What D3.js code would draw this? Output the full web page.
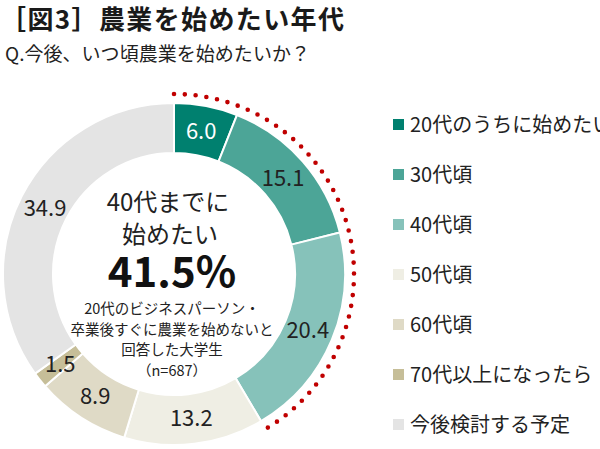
<!DOCTYPE html>
<html><head><meta charset="utf-8">
<script src="https://cdn.jsdelivr.net/npm/d3@7"></script>
<style>
html,body{margin:0;padding:0;background:#fff;}
text{font-family:"Noto Sans CJK JP","Noto Sans",sans-serif;}
</style></head>
<body><svg id="c" width="600" height="449"></svg>
<script>
const categories = ["20代のうちに始めたい","30代頃","40代頃","50代頃","60代頃","70代以上になったら","今後検討する予定"];
const values = [6.0, 15.1, 20.4, 13.2, 8.9, 1.5, 34.9];
const colors = ["#00806f","#4ca597","#86c2ba","#efeee4","#dfdac6","#c6be98","#e4e4e4"];
const labelColors = ["#ffffff","#222","#222","#222","#222","#222","#222"];
const highlightCount = 3; // 20代〜40代
const title = "［図3］農業を始めたい年代";
const subtitle = "Q.今後、いつ頃農業を始めたいか？";
const centerLines = ["40代までに","始めたい"];
const centerNote = ["20代のビジネスパーソン・","卒業後すぐに農業を始めないと","回答した大学生","（n=687）"];

const svg = d3.select("#c");
const cx = 174, cy = 274, R = 171, r0 = 121, rLab = 145, rDots = 180;

svg.append("text").attr("x",0).attr("y",29).attr("font-size",26).attr("font-weight",700)
  .attr("fill","#1a1a1a").attr("textLength",344).attr("lengthAdjust","spacing").text(title);
svg.append("text").attr("x",5).attr("y",61).attr("font-size",19)
  .attr("fill","#222").attr("textLength",305).attr("lengthAdjust","spacing").text(subtitle);

const pie = d3.pie().sort(null).value(d=>d)(values);
const arc = d3.arc().innerRadius(r0).outerRadius(R);
const g = svg.append("g").attr("transform",`translate(${cx},${cy})`);
g.selectAll("path.s").data(pie).join("path").attr("class","s")
  .attr("d",arc).attr("fill",(d,i)=>colors[i]).attr("stroke","#fff").attr("stroke-width",2);

const labArc = d3.arc().innerRadius(rLab).outerRadius(rLab);
g.selectAll("text.l").data(pie).join("text").attr("class","l")
  .attr("transform",d=>`translate(${labArc.centroid(d)})`)
  .attr("text-anchor","middle").attr("dy","0.36em").attr("font-size",22)
  .attr("fill",(d,i)=>labelColors[i]).text(d=>d.data.toFixed(1));

// dotted highlight arc
const endA = pie[highlightCount-1].endAngle;
const p = d3.path();
p.arc(0,0,rDots,-Math.PI/2,endA-Math.PI/2,false);
g.append("path").attr("d",p.toString()).attr("fill","none").attr("stroke","#c00000")
  .attr("stroke-width",4.6).attr("stroke-linecap","round").attr("stroke-dasharray","0 10.85");

// center text
const total = d3.sum(values.slice(0,highlightCount));
g.append("text").attr("x",-6).attr("y",-63).attr("text-anchor","middle").attr("font-size",24).attr("fill","#222").text(centerLines[0]);
g.append("text").attr("x",-4).attr("y",-31).attr("text-anchor","middle").attr("font-size",24).attr("fill","#222").text(centerLines[1]);
g.append("text").attr("x",-2).attr("y",13).attr("text-anchor","middle").attr("font-size",42).attr("font-weight",700).attr("fill","#111")
  .text(total.toFixed(1)+"%");
centerNote.forEach((t,i)=>{
  g.append("text").attr("x",-2).attr("y",40+i*20.5).attr("text-anchor","middle").attr("font-size",14.5).attr("fill","#222").text(t);
});

// legend
const lg = svg.append("g");
categories.forEach((c,i)=>{
  const y = 125 + i*50;
  lg.append("rect").attr("x",393).attr("y",y-6).attr("width",11).attr("height",11).attr("fill",colors[i]);
  lg.append("text").attr("x",410).attr("y",y).attr("dy","0.36em").attr("font-size",20).attr("fill","#222").text(c);
});
</script></body></html>
